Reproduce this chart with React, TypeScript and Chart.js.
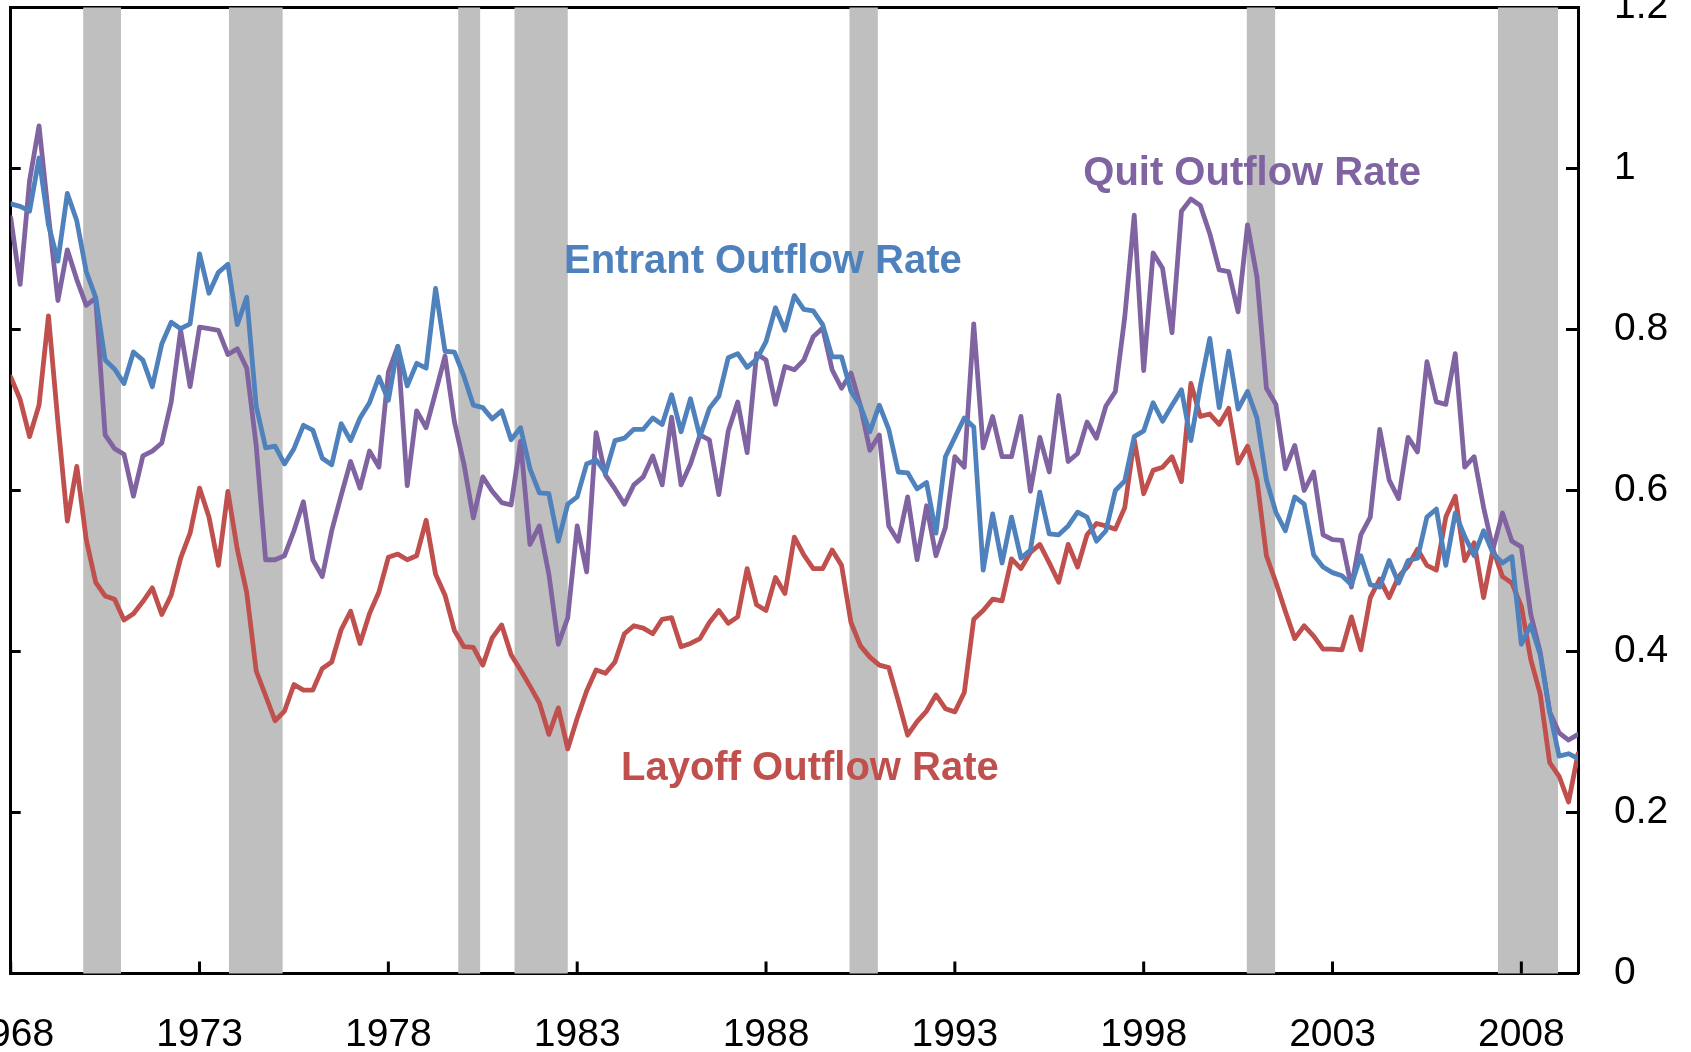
import { useEffect, useRef } from 'react';
import { Chart, registerables } from 'chart.js';

Chart.register(...registerables);

// ---- data (quarterly, starting 1968Q1) ----
const startYear = 1968;

const entrantRate = [
  0.956, 0.953, 0.947, 1.013, 0.930, 0.885, 0.969, 0.935, 0.872, 0.840,
  0.762, 0.751, 0.733, 0.772, 0.762, 0.729, 0.782, 0.809, 0.801, 0.807,
  0.894, 0.845, 0.871, 0.881, 0.806, 0.840, 0.705, 0.653, 0.655, 0.633,
  0.652, 0.681, 0.675, 0.640, 0.632, 0.683, 0.662, 0.690, 0.709, 0.741,
  0.712, 0.779, 0.730, 0.758, 0.752, 0.851, 0.773, 0.772, 0.742, 0.706,
  0.703, 0.689, 0.699, 0.663, 0.678, 0.627, 0.597, 0.596, 0.537, 0.583,
  0.592, 0.633, 0.638, 0.622, 0.662, 0.665, 0.676, 0.676, 0.690, 0.682,
  0.719, 0.673, 0.714, 0.667, 0.702, 0.717, 0.765, 0.770, 0.753, 0.763,
  0.785, 0.827, 0.799, 0.842, 0.825, 0.823, 0.806, 0.766, 0.766, 0.723,
  0.705, 0.673, 0.706, 0.676, 0.623, 0.622, 0.602, 0.610, 0.547, 0.642,
  0.666, 0.690, 0.679, 0.501, 0.571, 0.510, 0.567, 0.516, 0.526, 0.598,
  0.546, 0.545, 0.556, 0.573, 0.567, 0.537, 0.550, 0.600, 0.612, 0.667,
  0.674, 0.709, 0.686, 0.706, 0.725, 0.662, 0.730, 0.789, 0.703, 0.773,
  0.701, 0.723, 0.690, 0.613, 0.573, 0.550, 0.592, 0.583, 0.520, 0.505,
  0.498, 0.494, 0.483, 0.519, 0.483, 0.480, 0.513, 0.485, 0.513, 0.516,
  0.567, 0.577, 0.507, 0.572, 0.543, 0.519, 0.550, 0.522, 0.510, 0.518,
  0.409, 0.433, 0.396, 0.325, 0.270, 0.273, 0.267,
];

const quitRate = [
  0.939, 0.856, 0.985, 1.053, 0.942, 0.836, 0.899, 0.862, 0.830, 0.839,
  0.669, 0.652, 0.645, 0.593, 0.643, 0.649, 0.659, 0.710, 0.799, 0.729,
  0.803, 0.801, 0.799, 0.769, 0.776, 0.752, 0.656, 0.514, 0.514, 0.519,
  0.550, 0.586, 0.514, 0.493, 0.550, 0.594, 0.636, 0.603, 0.649, 0.629,
  0.747, 0.779, 0.606, 0.699, 0.678, 0.722, 0.767, 0.685, 0.633, 0.566,
  0.617, 0.599, 0.585, 0.582, 0.661, 0.533, 0.556, 0.496, 0.409, 0.442,
  0.556, 0.499, 0.672, 0.619, 0.602, 0.583, 0.607, 0.617, 0.643, 0.607,
  0.691, 0.607, 0.633, 0.669, 0.663, 0.595, 0.674, 0.710, 0.647, 0.770,
  0.762, 0.707, 0.754, 0.750, 0.762, 0.791, 0.802, 0.750, 0.727, 0.746,
  0.705, 0.650, 0.669, 0.556, 0.537, 0.592, 0.514, 0.581, 0.519, 0.554,
  0.642, 0.629, 0.807, 0.653, 0.692, 0.642, 0.642, 0.692, 0.599, 0.666,
  0.623, 0.718, 0.636, 0.646, 0.685, 0.665, 0.705, 0.723, 0.816, 0.942,
  0.749, 0.895, 0.876, 0.796, 0.947, 0.962, 0.954, 0.919, 0.874, 0.872,
  0.822, 0.930, 0.865, 0.727, 0.707, 0.627, 0.656, 0.600, 0.623, 0.545,
  0.539, 0.538, 0.480, 0.545, 0.567, 0.676, 0.613, 0.590, 0.666, 0.648,
  0.760, 0.710, 0.707, 0.770, 0.629, 0.642, 0.579, 0.527, 0.572, 0.537,
  0.530, 0.446, 0.399, 0.325, 0.299, 0.290, 0.297,
];

const layoffRate = [
  0.741, 0.713, 0.667, 0.706, 0.817, 0.685, 0.562, 0.630, 0.539, 0.486,
  0.469, 0.465, 0.439, 0.447, 0.462, 0.479, 0.446, 0.470, 0.516, 0.547,
  0.603, 0.567, 0.507, 0.599, 0.527, 0.473, 0.376, 0.345, 0.314, 0.326,
  0.359, 0.352, 0.352, 0.379, 0.387, 0.427, 0.450, 0.410, 0.447, 0.474,
  0.517, 0.521, 0.514, 0.519, 0.563, 0.496, 0.470, 0.426, 0.406, 0.405,
  0.383, 0.417, 0.433, 0.396, 0.377, 0.357, 0.336, 0.297, 0.330, 0.279,
  0.317, 0.351, 0.377, 0.373, 0.387, 0.422, 0.432, 0.429, 0.422, 0.440,
  0.442, 0.406, 0.410, 0.416, 0.436, 0.451, 0.435, 0.443, 0.503, 0.458,
  0.451, 0.492, 0.472, 0.542, 0.520, 0.503, 0.503, 0.526, 0.507, 0.436,
  0.407, 0.393, 0.383, 0.380, 0.339, 0.296, 0.313, 0.326, 0.346, 0.329,
  0.325, 0.349, 0.440, 0.451, 0.465, 0.463, 0.515, 0.503, 0.523, 0.533,
  0.510, 0.486, 0.533, 0.505, 0.545, 0.559, 0.556, 0.552, 0.579, 0.663,
  0.596, 0.625, 0.629, 0.642, 0.611, 0.733, 0.692, 0.695, 0.682, 0.702,
  0.634, 0.655, 0.613, 0.519, 0.486, 0.450, 0.416, 0.432, 0.419, 0.403,
  0.403, 0.402, 0.443, 0.402, 0.467, 0.490, 0.467, 0.493, 0.506, 0.527,
  0.507, 0.501, 0.567, 0.593, 0.513, 0.535, 0.467, 0.527, 0.493, 0.485,
  0.456, 0.390, 0.347, 0.262, 0.245, 0.213, 0.273,
];

const quarters = entrantRate.map((_, i) => startYear + i / 4);

const xTickYears = [1968, 1973, 1978, 1983, 1988, 1993, 1998, 2003, 2008];
const yTickValues = [0, 0.2, 0.4, 0.6, 0.8, 1, 1.2];

const recessionStarts = [1969.92, 1973.78, 1979.85, 1981.34, 1990.21, 2000.73, 2007.38];
const recessionEnds = [1970.92, 1975.2, 1980.43, 1982.75, 1990.96, 2001.48, 2008.97];

const seriesNames = ['Entrant Outflow Rate', 'Quit Outflow Rate', 'Layoff Outflow Rate'];
const seriesColors = ['#4F81BD', '#8064A2', '#C0504D'];
// label anchor (x in years, y = text baseline value)
const labelX = [1982.65, 1996.4, 1984.16];
const labelY = [0.87, 0.98, 0.24];

const X_MIN = 1968;
const X_MAX = 2009.5;
const Y_MIN = 0;
const Y_MAX = 1.2;

const FONT = '"Liberation Sans", Arial, Helvetica, sans-serif';

const bandsPlugin = {
  id: 'recessionBands',
  beforeDatasetsDraw(chart: any) {
    const { ctx, chartArea } = chart;
    const xs = chart.scales.x;
    ctx.save();
    ctx.fillStyle = '#BFBFBF';
    recessionStarts.forEach((s, i) => {
      const x0 = xs.getPixelForValue(s);
      const x1 = xs.getPixelForValue(recessionEnds[i]);
      ctx.fillRect(x0, chartArea.top, x1 - x0, chartArea.bottom - chartArea.top);
    });
    ctx.restore();
  },
};

const innerTicksPlugin = {
  id: 'innerTicks',
  afterDatasetsDraw(chart: any) {
    const { ctx, chartArea } = chart;
    const xs = chart.scales.x;
    const ys = chart.scales.y;
    ctx.save();
    ctx.strokeStyle = '#000';
    ctx.lineWidth = 3;
    ctx.beginPath();
    xTickYears.forEach((v) => {
      const px = xs.getPixelForValue(v);
      ctx.moveTo(px, chartArea.bottom);
      ctx.lineTo(px, chartArea.bottom - 12);
    });
    yTickValues.forEach((v) => {
      const py = ys.getPixelForValue(v);
      ctx.moveTo(chartArea.right, py);
      ctx.lineTo(chartArea.right - 12, py);
      ctx.moveTo(chartArea.left, py);
      ctx.lineTo(chartArea.left + 10, py);
    });
    ctx.stroke();
    ctx.restore();
  },
};

const labelsPlugin = {
  id: 'seriesLabels',
  afterDatasetsDraw(chart: any) {
    const { ctx } = chart;
    const xs = chart.scales.x;
    const ys = chart.scales.y;
    ctx.save();
    ctx.font = `bold 40px ${FONT}`;
    ctx.textAlign = 'left';
    ctx.textBaseline = 'alphabetic';
    seriesNames.forEach((name, i) => {
      ctx.fillStyle = seriesColors[i];
      ctx.fillText(name, xs.getPixelForValue(labelX[i]), ys.getPixelForValue(labelY[i]));
    });
    ctx.restore();
  },
};

export default function App() {
  const ref = useRef<HTMLCanvasElement | null>(null);

  useEffect(() => {
    if (!ref.current) return;
    const series = [entrantRate, quitRate, layoffRate];
    const chart = new Chart(ref.current, {
      type: 'line',
      data: {
        datasets: series.map((vals, k) => ({
          label: seriesNames[k],
          data: vals.map((v, i) => ({ x: quarters[i], y: v })),
          borderColor: seriesColors[k],
          backgroundColor: seriesColors[k],
          borderWidth: 4.8,
          pointRadius: 0,
          tension: 0,
          fill: false,
          borderJoinStyle: 'round' as const,
          borderCapStyle: 'round' as const,
          order: k,
        })),
      },
      options: {
        animation: false,
        responsive: false,
        devicePixelRatio: 1,
        layout: { padding: 0 },
        plugins: {
          legend: { display: false },
          tooltip: { enabled: false },
        },
        scales: {
          x: {
            type: 'linear',
            position: 'bottom',
            min: X_MIN,
            max: X_MAX,
            afterBuildTicks: (s: any) => {
              s.ticks = xTickYears.map((v) => ({ value: v }));
            },
            afterFit: (s: any) => {
              s.height = 78.5;
              s.paddingLeft = 0;
              s.paddingRight = 0;
            },
            grid: { display: false, drawTicks: false },
            border: { display: true, color: '#000', width: 3 },
            ticks: {
              color: '#000',
              font: { family: FONT, size: 39 },
              padding: 38,
              maxRotation: 0,
              minRotation: 0,
              autoSkip: false,
              callback: (v: any) => String(v),
            },
          },
          xTop: {
            type: 'linear',
            position: 'top',
            min: X_MIN,
            max: X_MAX,
            afterFit: (s: any) => {
              s.height = 7.5;
              s.paddingLeft = 0;
              s.paddingRight = 0;
            },
            grid: { display: false, drawTicks: false },
            border: { display: true, color: '#000', width: 3 },
            ticks: { display: false },
          },
          y: {
            type: 'linear',
            position: 'right',
            min: Y_MIN,
            max: Y_MAX,
            afterBuildTicks: (s: any) => {
              s.ticks = yTickValues.map((v) => ({ value: v }));
            },
            afterFit: (s: any) => {
              s.width = 113;
              s.paddingTop = 0;
              s.paddingBottom = 0;
            },
            grid: { display: false, drawTicks: false },
            border: { display: true, color: '#000', width: 3 },
            ticks: {
              color: '#000',
              font: { family: FONT, size: 39 },
              padding: 36,
              callback: (v: any) => String(Math.round(Number(v) * 10) / 10),
            },
          },
          yLeft: {
            type: 'linear',
            position: 'left',
            min: Y_MIN,
            max: Y_MAX,
            afterFit: (s: any) => {
              s.width = 10.7;
              s.paddingTop = 0;
              s.paddingBottom = 0;
            },
            grid: { display: false, drawTicks: false },
            border: { display: true, color: '#000', width: 3 },
            ticks: { display: false },
          },
        },
      } as any,
      plugins: [bandsPlugin, innerTicksPlugin, labelsPlugin],
    });
    return () => chart.destroy();
  }, []);

  return (
    <div style={{ position: 'fixed', left: 0, top: 0, width: 1691, height: 1052, background: '#fff' }}>
      <canvas ref={ref} width={1691} height={1052} style={{ display: 'block', width: 1691, height: 1052 }} />
    </div>
  );
}
